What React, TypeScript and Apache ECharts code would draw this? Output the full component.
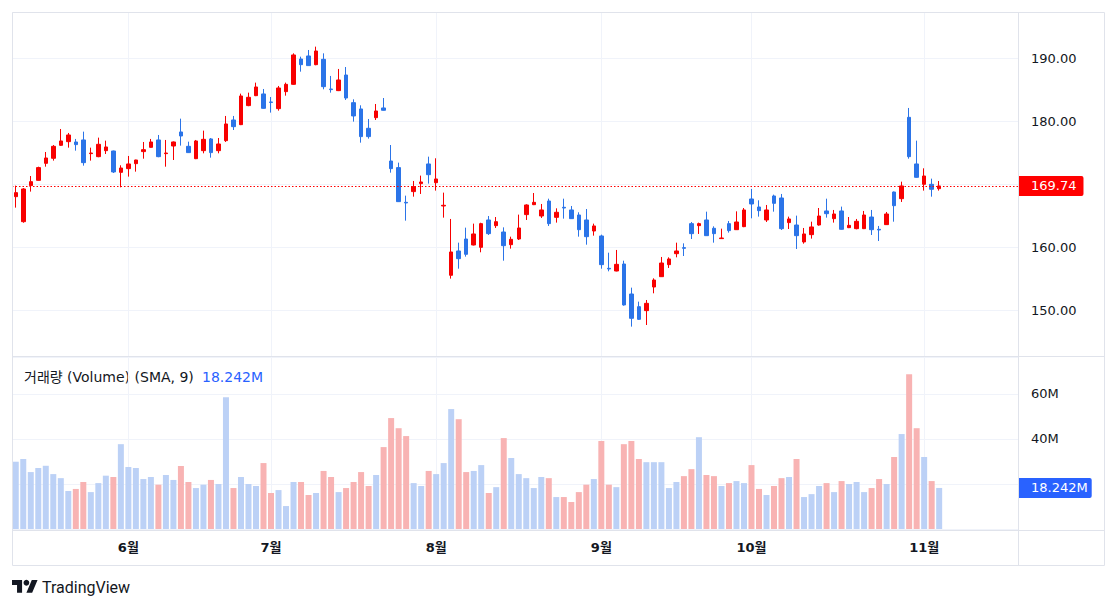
import React, { useEffect, useRef } from 'react';
import * as echarts from 'echarts';

const dates = [
  '2024-05-10', '2024-05-13', '2024-05-14', '2024-05-15', '2024-05-16', '2024-05-17',
  '2024-05-20', '2024-05-21', '2024-05-22', '2024-05-23', '2024-05-24',
  '2024-05-28', '2024-05-29', '2024-05-30', '2024-05-31',
  '2024-06-03', '2024-06-04', '2024-06-05', '2024-06-06', '2024-06-07',
  '2024-06-10', '2024-06-11', '2024-06-12', '2024-06-13', '2024-06-14',
  '2024-06-17', '2024-06-18', '2024-06-20', '2024-06-21',
  '2024-06-24', '2024-06-25', '2024-06-26', '2024-06-27', '2024-06-28',
  '2024-07-01', '2024-07-02', '2024-07-03', '2024-07-05',
  '2024-07-08', '2024-07-09', '2024-07-10', '2024-07-11', '2024-07-12',
  '2024-07-15', '2024-07-16', '2024-07-17', '2024-07-18', '2024-07-19',
  '2024-07-22', '2024-07-23', '2024-07-24', '2024-07-25', '2024-07-26',
  '2024-07-29', '2024-07-30', '2024-07-31',
  '2024-08-01', '2024-08-02',
  '2024-08-05', '2024-08-06', '2024-08-07', '2024-08-08', '2024-08-09',
  '2024-08-12', '2024-08-13', '2024-08-14', '2024-08-15', '2024-08-16',
  '2024-08-19', '2024-08-20', '2024-08-21', '2024-08-22', '2024-08-23',
  '2024-08-26', '2024-08-27', '2024-08-28', '2024-08-29', '2024-08-30',
  '2024-09-03', '2024-09-04', '2024-09-05', '2024-09-06',
  '2024-09-09', '2024-09-10', '2024-09-11', '2024-09-12', '2024-09-13',
  '2024-09-16', '2024-09-17', '2024-09-18', '2024-09-19', '2024-09-20',
  '2024-09-23', '2024-09-24', '2024-09-25', '2024-09-26', '2024-09-27',
  '2024-09-30',
  '2024-10-01', '2024-10-02', '2024-10-03', '2024-10-04',
  '2024-10-07', '2024-10-08', '2024-10-09', '2024-10-10', '2024-10-11',
  '2024-10-14', '2024-10-15', '2024-10-16', '2024-10-17', '2024-10-18',
  '2024-10-21', '2024-10-22', '2024-10-23', '2024-10-24', '2024-10-25',
  '2024-10-28', '2024-10-29', '2024-10-30', '2024-10-31',
  '2024-11-01', '2024-11-04', '2024-11-05',
];

const opens = [
  168.04, 164.07, 169.79, 170.63, 173.33, 174.13, 176.19, 176.77, 176.72, 177.04,
  174.87, 174.39, 175.34, 175.29, 171.90, 172.49, 173.28, 175.19, 175.87, 177.04,
  174.87, 176.08, 178.31, 176.03, 174.07, 175.34, 177.20, 175.34, 176.93, 180.21,
  179.47, 182.49, 184.07, 184.34, 183.07, 182.01, 184.71, 185.87, 189.89, 190.37,
  188.99, 189.84, 185.13, 184.87, 187.35, 182.96, 181.96, 178.89, 180.58, 182.12,
  173.70, 172.65, 167.14, 168.84, 170.11, 173.23, 170.26, 166.56, 155.56, 159.42,
  161.32, 160.37, 160.00, 164.34, 163.44, 162.43, 160.42, 161.32, 165.19, 166.77,
  164.97, 167.35, 164.76, 166.35, 165.93, 165.13, 164.34, 162.59, 161.80, 156.67,
  156.24, 157.35, 152.59, 150.58, 149.95, 153.70, 155.34, 157.25, 158.99, 159.95,
  163.76, 163.44, 164.34, 163.02, 161.38, 163.76, 162.80, 163.28, 167.67, 166.40,
  164.34, 168.15, 167.83, 163.92, 163.54, 160.85, 162.01, 163.54, 165.77, 164.55,
  165.77, 163.12, 162.96, 162.96, 164.81, 162.86, 163.60, 168.78, 167.72, 180.63,
  173.23, 170.00, 170.00, 169.31,
];

const highs = [
  169.79, 169.40, 171.32, 172.80, 175.13, 176.24, 178.78, 178.15, 177.20, 178.36,
  175.82, 177.41, 176.93, 175.35, 173.02, 174.50, 173.90, 176.72, 177.20, 177.83,
  177.04, 176.80, 180.42, 176.77, 177.04, 178.52, 177.35, 177.35, 180.85, 180.85,
  184.39, 184.55, 186.14, 185.13, 183.86, 185.61, 186.14, 190.79, 190.26, 191.32,
  191.85, 190.79, 187.20, 188.31, 188.62, 183.49, 182.54, 180.37, 182.75, 183.70,
  176.24, 173.44, 168.20, 170.53, 171.38, 174.39, 174.13, 168.68, 164.50, 160.74,
  163.12, 163.76, 163.90, 164.97, 164.81, 163.17, 161.69, 165.19, 166.83, 168.62,
  166.88, 167.72, 166.19, 167.72, 166.56, 165.56, 166.08, 163.76, 162.01, 159.15,
  159.58, 157.88, 153.60, 151.38, 151.64, 155.08, 158.47, 158.41, 160.74, 160.63,
  164.02, 163.92, 165.66, 163.33, 162.96, 164.18, 165.71, 166.24, 169.26, 167.46,
  166.72, 168.36, 168.47, 164.87, 165.03, 163.07, 164.07, 166.24, 167.72, 165.93,
  166.46, 164.81, 164.50, 165.77, 165.93, 163.39, 165.61, 168.85, 170.42, 182.12,
  176.93, 172.54, 170.90, 170.53,
];

const lows = [
  166.30, 163.90, 168.84, 170.58, 172.80, 173.76, 176.08, 175.82, 175.34, 172.96,
  173.76, 174.30, 174.81, 171.80, 169.52, 171.22, 172.01, 174.07, 175.82, 174.30,
  172.80, 173.86, 176.14, 174.98, 174.00, 174.92, 174.23, 174.92, 176.72, 178.62,
  179.40, 182.40, 184.00, 182.00, 181.38, 181.69, 184.07, 185.80, 187.88, 188.80,
  188.90, 185.08, 184.55, 184.80, 183.39, 179.95, 176.61, 177.25, 180.21, 181.70,
  171.85, 167.20, 164.23, 168.04, 168.47, 170.11, 169.00, 164.71, 155.03, 156.61,
  158.52, 160.30, 159.21, 161.96, 163.07, 157.88, 159.79, 161.16, 164.34, 166.70,
  164.66, 163.39, 163.92, 164.55, 164.50, 161.69, 160.42, 161.85, 156.61, 156.19,
  156.19, 150.74, 147.41, 148.47, 147.67, 152.70, 155.30, 156.72, 158.41, 158.62,
  161.32, 162.12, 161.80, 160.74, 161.35, 162.33, 162.75, 163.20, 164.60, 164.87,
  164.02, 165.66, 162.75, 162.91, 159.74, 160.58, 161.38, 163.44, 164.71, 163.92,
  162.80, 163.05, 162.86, 162.90, 161.96, 161.00, 163.55, 164.07, 167.20, 174.07,
  171.05, 169.00, 168.04, 169.00,
];

const closes = [
  168.68, 169.26, 170.42, 172.65, 174.18, 176.03, 176.88, 177.83, 176.30, 173.44,
  174.97, 176.35, 175.93, 171.96, 172.59, 173.23, 173.86, 175.50, 176.72, 174.39,
  174.97, 176.72, 177.67, 175.03, 176.88, 177.14, 175.03, 176.40, 179.58, 179.15,
  184.02, 183.81, 185.45, 182.06, 183.00, 185.29, 185.87, 190.53, 188.99, 188.84,
  191.16, 185.50, 185.03, 186.56, 183.70, 180.85, 177.57, 177.57, 181.64, 181.75,
  172.49, 167.25, 167.04, 169.63, 170.37, 171.53, 170.85, 166.67, 159.26, 158.20,
  158.89, 162.12, 163.76, 162.17, 164.07, 160.26, 161.27, 163.07, 166.72, 167.14,
  165.93, 163.76, 165.56, 166.24, 164.55, 162.80, 161.69, 163.39, 157.25, 156.56,
  157.30, 150.85, 148.73, 148.57, 151.11, 154.81, 157.51, 158.15, 159.42, 159.84,
  162.17, 163.76, 161.85, 162.17, 161.48, 162.65, 164.02, 165.93, 166.88, 165.82,
  165.93, 166.98, 162.96, 164.50, 161.85, 162.12, 163.23, 164.97, 165.34, 165.29,
  162.86, 163.49, 164.13, 165.13, 162.80, 162.75, 165.29, 166.61, 169.74, 174.39,
  171.11, 171.32, 169.21, 169.74,
];

// volume in millions
const volumes = [
  29.9, 31.1, 25.3, 27.1, 28.1, 24.4, 22.6, 16.9, 17.8, 20.9,
  16.4, 20.4, 23.7, 23.1, 37.7, 27.5, 27.1, 22.2, 23.1, 19.7,
  24.0, 21.8, 28.0, 20.9, 18.2, 19.7, 21.8, 20.0, 58.6, 18.2,
  23.1, 20.0, 19.1, 29.3, 16.0, 17.3, 10.2, 20.9, 20.9, 15.1,
  16.0, 25.8, 23.1, 16.4, 18.2, 20.9, 25.3, 19.1, 24.0, 36.4,
  49.3, 44.8, 41.3, 20.4, 19.1, 25.8, 24.4, 29.3, 53.3, 48.8,
  25.3, 25.8, 28.4, 16.0, 18.6, 40.4, 31.5, 24.4, 22.6, 18.2,
  23.1, 22.6, 14.2, 14.2, 12.0, 16.4, 19.7, 22.2, 39.1, 19.7,
  18.6, 37.7, 39.1, 31.1, 29.7, 29.7, 29.7, 18.2, 20.9, 23.5,
  26.6, 40.8, 24.0, 23.5, 19.1, 20.4, 21.3, 20.4, 28.4, 17.8,
  15.1, 19.1, 22.6, 23.1, 31.1, 14.2, 15.5, 19.1, 20.4, 16.4,
  21.3, 20.0, 20.9, 16.4, 18.2, 22.2, 20.0, 32.0, 42.2, 68.8,
  44.8, 32.0, 21.3, 18.242,
];

const lastPrice = 169.74;
const lastVolume = 18.242;
const volumeTickLabels = [40, 60];
const FUTURE_SLOTS = 10;

const UP = '#f80000';
const DOWN = '#2b74e8';
const VOL_UP = '#bcd1f6';
const VOL_DOWN = '#f8b3b3';
const GRID = '#f0f3fa';
const FRAME = '#e0e3eb';
const TEXT = '#131722';
const FONT = "'DejaVu Sans', 'Noto Sans CJK KR', sans-serif";

const LOGO_D = 'M14 22H7V11H0V4h14v18zM28 22h-8l7.5-18h8L28 22z';
let logoRegistered = false;

export default function App() {
  const ref = useRef<HTMLDivElement>(null);

  useEffect(() => {
    if (!logoRegistered) {
      echarts.graphic.registerShape('tvlogo', echarts.graphic.extendPath(LOGO_D, {}) as any);
      logoRegistered = true;
    }
    const chart = echarts.init(ref.current!, null, { renderer: 'svg' });

    const cats = dates.concat(Array.from({ length: FUTURE_SLOTS }, (_, k) => `future-${k}`));
    const monthStarts: number[] = [];
    dates.forEach((d, i) => {
      if (i > 0 && d.slice(5, 7) !== dates[i - 1].slice(5, 7)) monthStarts.push(i);
    });
    const monthSet = new Set(monthStarts);

    const candleData = dates.map((_, i) => [opens[i], closes[i], lows[i], highs[i]]);
    const volData = volumes.map((v, i) => ({
      value: v,
      itemStyle: { color: closes[i] >= opens[i] ? VOL_UP : VOL_DOWN },
    }));

    const monthLines = monthStarts.map((i) => ({ xAxis: cats[i] }));

    const hiddenAxisParts = {
      axisLine: { show: false },
      axisTick: { show: false },
      splitLine: { show: false },
    };

    const option: any = {
      animation: false,
      backgroundColor: '#ffffff',
      textStyle: { fontFamily: FONT },
      grid: [
        { left: 12, right: 100, top: 12, height: 344 },
        { left: 12, right: 100, top: 357, height: 172 },
      ],
      xAxis: [
        {
          type: 'category',
          gridIndex: 0,
          data: cats,
          boundaryGap: true,
          ...hiddenAxisParts,
          axisLabel: { show: false },
        },
        {
          type: 'category',
          gridIndex: 1,
          data: cats,
          boundaryGap: true,
          ...hiddenAxisParts,
          axisLabel: {
            show: true,
            interval: (idx: number) => monthSet.has(idx),
            formatter: (v: string) => (v.startsWith('future') ? '' : `${parseInt(v.slice(5, 7), 10)}월`),
            color: TEXT,
            fontSize: 13,
            fontWeight: 'bold',
            fontFamily: FONT,
            margin: 12,
          },
        },
      ],
      yAxis: [
        {
          type: 'value',
          gridIndex: 0,
          position: 'right',
          min: 142.75,
          max: 197.35,
          splitNumber: 5,
          axisLine: { show: false },
          axisTick: { show: false },
          axisLabel: {
            margin: 13,
            color: TEXT,
            fontSize: 13,
            fontFamily: FONT,
            showMinLabel: false,
            showMaxLabel: false,
            formatter: (v: number) => (Math.abs(v / 10 - Math.round(v / 10)) < 1e-6 ? v.toFixed(2) : ''),
          },
          splitLine: { show: true, lineStyle: { color: GRID, width: 1 } },
        },
        {
          type: 'value',
          gridIndex: 1,
          position: 'right',
          min: 0,
          max: 76.44,
          interval: 20,
          axisLine: { show: false },
          axisTick: { show: false },
          axisLabel: {
            margin: 13,
            color: TEXT,
            fontSize: 13,
            fontFamily: FONT,
            showMaxLabel: false,
            formatter: (v: number) => (volumeTickLabels.indexOf(v) >= 0 ? `${v}M` : ''),
          },
          splitLine: { show: true, lineStyle: { color: GRID, width: 1 } },
        },
      ],
      series: [
        {
          type: 'line',
          xAxisIndex: 0,
          yAxisIndex: 0,
          data: [],
          silent: true,
          markLine: {
            silent: true,
            z: 1,
            symbol: ['none', 'none'],
            label: { show: false },
            lineStyle: { color: GRID, type: 'solid', width: 1 },
            data: monthLines,
          },
        },
        {
          type: 'line',
          xAxisIndex: 1,
          yAxisIndex: 1,
          data: [],
          silent: true,
          markLine: {
            silent: true,
            z: 1,
            symbol: ['none', 'none'],
            label: { show: false },
            lineStyle: { color: GRID, type: 'solid', width: 1 },
            data: monthLines,
          },
        },
        {
          type: 'candlestick',
          xAxisIndex: 0,
          yAxisIndex: 0,
          data: candleData,
          barWidth: 4,
          itemStyle: {
            color: UP,
            color0: DOWN,
            borderColor: UP,
            borderColor0: DOWN,
            borderWidth: 1,
          },
          markLine: {
            silent: true,
            symbol: ['none', 'none'],
            data: [
              {
                yAxis: lastPrice,
                lineStyle: { color: '#ff0000', type: [1.5, 2], width: 1 },
                label: {
                  show: true,
                  position: 'end',
                  distance: 0,
                  formatter: () => lastPrice.toFixed(2),
                  color: '#ffffff',
                  backgroundColor: '#ff0000',
                  fontSize: 13,
                  fontFamily: FONT,
                  padding: [4, 7, 3, 13],
                  borderRadius: [0, 2, 2, 0],
                },
              },
            ],
          },
        },
        {
          type: 'bar',
          xAxisIndex: 1,
          yAxisIndex: 1,
          data: volData,
          barWidth: 6,
          markLine: {
            silent: true,
            symbol: ['none', 'none'],
            data: [
              {
                yAxis: lastVolume,
                lineStyle: { color: 'rgba(0,0,0,0)', width: 1, type: 'solid' },
                label: {
                  show: true,
                  position: 'end',
                  distance: 0,
                  formatter: () => `${lastVolume.toFixed(3)}M`,
                  color: '#ffffff',
                  backgroundColor: '#2962ff',
                  fontSize: 13,
                  fontFamily: FONT,
                  padding: [4, 4, 3, 13],
                  borderRadius: [0, 2, 2, 0],
                },
              },
            ],
          },
        },
      ],
      graphic: [
        {
          type: 'rect',
          silent: true,
          z: 50,
          shape: { x: 12.5, y: 12.5, width: 1092, height: 553 },
          style: { fill: 'none', stroke: FRAME, lineWidth: 1 },
        },
        {
          type: 'line',
          silent: true,
          z: 50,
          shape: { x1: 1018.5, y1: 12, x2: 1018.5, y2: 566 },
          style: { stroke: FRAME, lineWidth: 1 },
        },
        {
          type: 'line',
          silent: true,
          z: 50,
          shape: { x1: 12, y1: 356.5, x2: 1105, y2: 356.5 },
          style: { stroke: FRAME, lineWidth: 1 },
        },
        {
          type: 'line',
          silent: true,
          z: 50,
          shape: { x1: 12, y1: 530.5, x2: 1105, y2: 530.5 },
          style: { stroke: FRAME, lineWidth: 1 },
        },
        {
          type: 'text',
          silent: true,
          x: 24,
          y: 377,
          style: {
            text: '거래량 (Volume) (SMA, 9)',
            fill: TEXT,
            fontSize: 14,
            fontFamily: FONT,
            verticalAlign: 'middle',
          },
        },
        {
          type: 'text',
          silent: true,
          x: 202,
          y: 377,
          style: {
            text: `${lastVolume.toFixed(3)}M`,
            fill: '#2962ff',
            fontSize: 14,
            fontFamily: FONT,
            verticalAlign: 'middle',
          },
        },
        {
          type: 'tvlogo',
          silent: true,
          x: 12,
          y: 577,
          scaleX: 0.72,
          scaleY: 0.72,
          style: { fill: TEXT },
        },
        {
          type: 'circle',
          silent: true,
          shape: { cx: 12 + 20 * 0.72, cy: 577 + 8 * 0.72, r: 4 * 0.72 },
          style: { fill: TEXT },
        },
        {
          type: 'text',
          silent: true,
          x: 42,
          y: 587,
          style: {
            text: 'TradingView',
            fill: TEXT,
            fontSize: 16,
            fontFamily: "Roboto, 'Noto Sans', sans-serif",
            verticalAlign: 'middle',
          },
        },
      ],
    };

    chart.setOption(option);
    return () => chart.dispose();
  }, []);

  return (
    <div
      ref={ref}
      style={{ position: 'absolute', left: 0, top: 0, width: 1118, height: 609, background: '#ffffff' }}
    />
  );
}
